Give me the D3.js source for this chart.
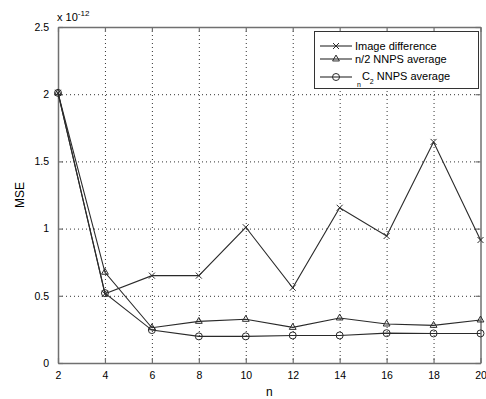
<!DOCTYPE html>
<html>
<head>
<meta charset="utf-8">
<script src="https://cdn.jsdelivr.net/npm/d3@7"></script>
<style>
  html, body { margin: 0; padding: 0; background: #fff; }
  text { font-family: "Liberation Sans", Arial, Helvetica, sans-serif; fill: #000; }
</style>
</head>
<body>
<svg id="chart" width="486" height="399"></svg>
<script>
// Mean squared error (x 1e-12) against the number of images n
const nValues = [2, 4, 6, 8, 10, 12, 14, 16, 18, 20];
const imageDifference = [2.01, 0.515, 0.65, 0.65, 1.01, 0.56, 1.155, 0.945, 1.645, 0.915];
const halfNnpsAverage = [2.01, 0.675, 0.262, 0.31, 0.325, 0.265, 0.335, 0.29, 0.28, 0.32];
const combNnpsAverage = [2.01, 0.52, 0.245, 0.198, 0.198, 0.205, 0.205, 0.222, 0.22, 0.22];
const xTicks = [2, 4, 6, 8, 10, 12, 14, 16, 18, 20];
const yTicks = [0, 0.5, 1, 1.5, 2, 2.5];
const yTickLabels = ["0", "0.5", "1", "1.5", "2", "2.5"];

const svg = d3.select("#chart");
const plotLeft = 58, plotRight = 480.5, plotTop = 27, plotBottom = 363;
const x = d3.scaleLinear().domain([2, 20]).range([plotLeft, plotRight]);
const y = d3.scaleLinear().domain([0, 2.5]).range([plotBottom, plotTop]);

const axisColor = "#707070";
const lineColor = "#2a2a2a";

// dotted grid
const grid = svg.append("g");
grid.selectAll("line.gx").data(xTicks.slice(1, -1)).join("line")
  .attr("x1", d => x(d) + 0.5).attr("x2", d => x(d) + 0.5)
  .attr("y1", plotTop).attr("y2", plotBottom)
  .attr("stroke", "#333").attr("stroke-width", 1).attr("stroke-dasharray", "1,3");
grid.selectAll("line.gy").data(yTicks.slice(1, -1)).join("line")
  .attr("y1", d => y(d) + 0.5).attr("y2", d => y(d) + 0.5)
  .attr("x1", plotLeft).attr("x2", plotRight)
  .attr("stroke", "#333").attr("stroke-width", 1).attr("stroke-dasharray", "1,3");

// axes with inward ticks on all four sides
const fmt = d => yTickLabels[yTicks.indexOf(d)];
const axB = svg.append("g").attr("transform", `translate(0,${plotBottom})`)
  .call(d3.axisBottom(x).tickValues(xTicks).tickSizeInner(-5).tickSizeOuter(0).tickPadding(9));
const axT = svg.append("g").attr("transform", `translate(0,${plotTop})`)
  .call(d3.axisTop(x).tickValues(xTicks).tickSizeInner(-5).tickSizeOuter(0).tickFormat(""));
const axL = svg.append("g").attr("transform", `translate(${plotLeft},0)`)
  .call(d3.axisLeft(y).tickValues(yTicks).tickFormat(fmt).tickSizeInner(-5).tickSizeOuter(0).tickPadding(9));
const axR = svg.append("g").attr("transform", `translate(${plotRight},0)`)
  .call(d3.axisRight(y).tickValues(yTicks).tickSizeInner(-5).tickSizeOuter(0).tickFormat(""));
[axB, axT, axL, axR].forEach(a => {
  a.selectAll("path.domain").attr("stroke", axisColor).attr("stroke-width", 1.5);
  a.selectAll(".tick line").attr("stroke", axisColor).attr("stroke-width", 1.2);
  a.selectAll("text").style("font-size", "10.5px").attr("fill", "#000");
});

// axis titles and exponent
svg.append("text").attr("x", (plotLeft + plotRight) / 2).attr("y", 396)
  .attr("text-anchor", "middle").style("font-size", "12px").text("n");
svg.append("text").attr("transform", `translate(24,${(plotTop + plotBottom) / 2}) rotate(-90)`)
  .attr("text-anchor", "middle").style("font-size", "12px").text("MSE");
const expo = svg.append("text").attr("x", 57).attr("y", 21).style("font-size", "11px");
expo.append("tspan").text("x 10");
expo.append("tspan").attr("dy", -5).style("font-size", "8px").text("-12");

// series
const line = d3.line().x((d, i) => x(nValues[i])).y(d => y(d));
const series = [
  { values: imageDifference, marker: "x" },
  { values: halfNnpsAverage, marker: "tri" },
  { values: combNnpsAverage, marker: "circ" }
];

function drawMarker(g, type, cx, cy) {
  if (type === "x") {
    g.append("path").attr("d", `M${cx - 3},${cy - 3}L${cx + 3},${cy + 3}M${cx - 3},${cy + 3}L${cx + 3},${cy - 3}`)
      .attr("stroke", lineColor).attr("stroke-width", 1).attr("fill", "none");
  } else if (type === "tri") {
    g.append("path").attr("d", d3.symbol(d3.symbolTriangle, 20)()).attr("transform", `translate(${cx},${cy})`)
      .attr("stroke", lineColor).attr("stroke-width", 1).attr("fill", "none");
  } else {
    g.append("circle").attr("cx", cx).attr("cy", cy).attr("r", 3.5)
      .attr("stroke", lineColor).attr("stroke-width", 1).attr("fill", "none");
  }
}

series.forEach(s => {
  svg.append("path").datum(s.values).attr("d", line)
    .attr("fill", "none").attr("stroke", lineColor).attr("stroke-width", 1.1);
  const g = svg.append("g");
  s.values.forEach((v, i) => drawMarker(g, s.marker, x(nValues[i]), y(v)));
});

// legend
const lg = svg.append("g");
lg.append("rect").attr("x", 314.5).attr("y", 31.5).attr("width", 164).attr("height", 57)
  .attr("fill", "#fff").attr("stroke", "#333").attr("stroke-width", 1);
const rows = [
  { y: 46, marker: "x", label: "Image difference" },
  { y: 59, marker: "tri", label: "n/2 NNPS average" },
  { y: 77, marker: "circ", label: null }
];
rows.forEach(r => {
  lg.append("line").attr("x1", 320).attr("x2", 352).attr("y1", r.y).attr("y2", r.y)
    .attr("stroke", lineColor).attr("stroke-width", 1.1);
  drawMarker(lg, r.marker, 336, r.y);
  if (r.label) {
    lg.append("text").attr("x", 355).attr("y", r.y + 4).style("font-size", "11px").text(r.label);
  }
});
const combLabel = lg.append("text").attr("x", 357).attr("y", 80).style("font-size", "11px");
combLabel.append("tspan").attr("dy", 7).style("font-size", "7px").text("n");
combLabel.append("tspan").attr("dx", 1).attr("dy", -7).text("C");
combLabel.append("tspan").attr("dy", 4).style("font-size", "7px").text("2");
combLabel.append("tspan").attr("dy", -4).text(" NNPS average");
</script>
</body>
</html>
